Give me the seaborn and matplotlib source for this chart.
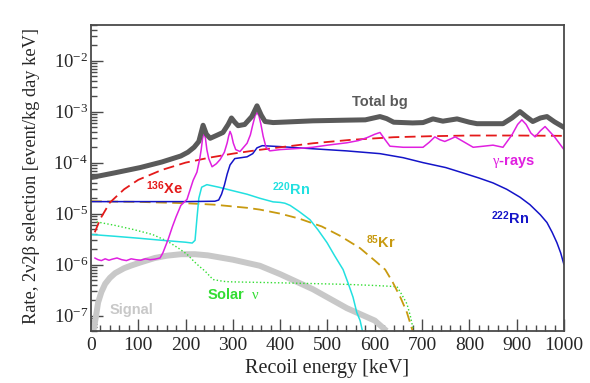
import matplotlib
matplotlib.use("Agg")
import matplotlib.pyplot as plt
import matplotlib.ticker as mticker
import pandas as pd
import seaborn as sns

# ---- background components: recoil energy [keV] vs rate [event/kg/day/keV] ----
total_x = [0, 50, 104, 150, 190, 205, 218, 228, 237, 244, 252, 265, 279, 290, 297, 304,
           311, 325, 340, 351, 360, 368, 385, 420, 469, 540, 580, 611, 625, 640, 680, 702,
           723, 744, 774, 800, 816, 871, 890, 907, 920, 934, 950, 964, 980, 1000]
total_y = [5.1e-5, 6.3e-5, 8.0e-5, 1.03e-4, 1.35e-4, 1.6e-4, 2.0e-4, 2.6e-4, 5.4e-4, 3.6e-4,
           3.0e-4, 3.4e-4, 3.9e-4, 5.6e-4, 7.5e-4, 6.2e-4, 5.3e-4, 5.6e-4, 8.0e-4, 1.3e-3,
           8.5e-4, 6.4e-4, 6.1e-4, 6.3e-4, 6.6e-4, 6.8e-4, 6.9e-4, 8.0e-4, 7.3e-4, 6.2e-4,
           6.0e-4, 6.1e-4, 7.2e-4, 6.5e-4, 7.2e-4, 6.2e-4, 5.8e-4, 5.8e-4, 7.5e-4, 1.0e-3,
           8.0e-4, 6.4e-4, 7.5e-4, 8.0e-4, 6.3e-4, 4.9e-4]

gamma_x = [8, 15, 22, 30, 38, 45, 55, 65, 75, 85, 95, 105, 115, 125, 135, 146, 152, 163, 172,
           180, 190, 203, 216, 224, 230, 233, 236, 239, 242, 245, 249, 256, 265, 273, 282, 288,
           291, 294, 297, 301, 306, 315, 330, 337, 342, 347, 351, 355, 359, 364, 370, 378, 400,
           440, 469, 500, 541, 565, 584, 600, 611, 622, 632, 660, 702, 715, 727, 738, 748, 760,
           770, 790, 808, 830, 850, 871, 890, 902, 911, 920, 930, 939, 950, 960, 980, 1000]
gamma_y = [1.35e-6, 1.25e-6, 1.2e-6, 1.3e-6, 1.22e-6, 1.28e-6, 1.35e-6, 1.25e-6, 1.2e-6, 1.3e-6,
           1.25e-6, 1.22e-6, 1.3e-6, 1.25e-6, 1.28e-6, 1.35e-6, 1.7e-6, 3.1e-6, 5.5e-6, 8.7e-6,
           1.45e-5, 1.9e-5, 4.5e-5, 6.5e-5, 1.2e-4, 1.8e-4, 3.0e-4, 3.9e-4, 3.0e-4, 1.8e-4,
           1.2e-4, 8.3e-5, 9.5e-5, 1.15e-4, 1.6e-4, 2.45e-4, 3.3e-4, 4.1e-4, 3.5e-4, 2.4e-4,
           1.8e-4, 1.65e-4, 2.4e-4, 3.5e-4, 5.5e-4, 8.3e-4, 9.6e-4, 8.3e-4, 5.8e-4, 3.3e-4,
           2.0e-4, 1.7e-4, 1.8e-4, 1.9e-4, 2.0e-4, 2.2e-4, 2.45e-4, 2.7e-4, 3.1e-4, 3.6e-4,
           3.9e-4, 2.8e-4, 2.1e-4, 2.0e-4, 2.0e-4, 2.5e-4, 3.2e-4, 2.8e-4, 2.6e-4, 2.9e-4,
           3.2e-4, 2.5e-4, 2.0e-4, 2.1e-4, 2.2e-4, 2.0e-4, 3.5e-4, 5.6e-4, 6.9e-4, 5.6e-4,
           3.8e-4, 3.2e-4, 4.2e-4, 5.1e-4, 3.2e-4, 1.8e-4]

xe136_x = [8, 20, 40, 70, 100, 150, 200, 250, 300, 350, 400, 470, 550, 640, 720, 800, 900, 1000]
xe136_y = [4.3e-6, 8.0e-6, 1.65e-5, 3.0e-5, 4.6e-5, 7.2e-5, 1.0e-4, 1.25e-4, 1.5e-4, 1.75e-4,
           2.0e-4, 2.4e-4, 2.8e-4, 3.15e-4, 3.3e-4, 3.4e-4, 3.4e-4, 3.35e-4]

rn222_x = [0, 100, 200, 262, 270, 276, 282, 288, 294, 304, 330, 342, 351, 362, 400, 469, 540,
           611, 660, 702, 750, 786, 820, 850, 879, 907, 928, 950, 964, 975, 985, 993, 1000]
rn222_y = [1.72e-5, 1.72e-5, 1.72e-5, 1.75e-5, 1.85e-5, 2.4e-5, 3.6e-5, 6.0e-5, 9.0e-5, 1.2e-4,
           1.3e-4, 1.5e-4, 1.95e-4, 2.15e-4, 2.06e-4, 1.87e-4, 1.7e-4, 1.5e-4, 1.25e-4, 1.0e-4,
           8.0e-5, 6.3e-5, 5.0e-5, 4.0e-5, 3.0e-5, 2.1e-5, 1.5e-5, 9.5e-6, 6.7e-6, 4.3e-6,
           2.7e-6, 1.7e-6, 1.0e-6]

rn220_x = [0, 50, 100, 150, 200, 214, 220, 224, 228, 234, 245, 270, 294, 330, 357, 385, 400,
           410, 421, 440, 463, 480, 499, 515, 533, 545, 554, 562, 569, 575]
rn220_y = [3.9e-6, 3.6e-6, 3.3e-6, 3.0e-6, 2.75e-6, 2.65e-6, 3.0e-6, 8.0e-6, 2.0e-5, 3.3e-5,
           3.7e-5, 3.3e-5, 2.9e-5, 2.4e-5, 2.0e-5, 1.7e-5, 1.66e-5, 1.6e-5, 1.45e-5, 1.1e-5,
           7.6e-6, 4.8e-6, 2.7e-6, 1.5e-6, 8.0e-7, 4.0e-7, 2.3e-7, 1.15e-7, 8.0e-8, 4.5e-8]

kr85_x = [0, 100, 200, 260, 330, 357, 400, 440, 488, 526, 569, 600, 622, 638, 655, 668, 680]
kr85_y = [1.75e-5, 1.7e-5, 1.6e-5, 1.5e-5, 1.3e-5, 1.2e-5, 1.0e-5, 8.0e-6, 5.6e-6, 3.7e-6,
          2.1e-6, 1.2e-6, 8.0e-7, 4.5e-7, 2.2e-7, 1.15e-7, 5.0e-8]

solar_x = [12, 50, 89, 130, 161, 185, 203, 218, 230, 241, 258, 280, 294, 400, 541, 600, 647,
           657, 668, 675, 682]
solar_y = [6.9e-6, 5.9e-6, 4.9e-6, 3.9e-6, 2.9e-6, 2.1e-6, 1.6e-6, 1.15e-6, 9.1e-7, 7.5e-7,
           5.1e-7, 4.7e-7, 4.6e-7, 4.4e-7, 4.1e-7, 3.9e-7, 3.7e-7, 2.6e-7, 1.7e-7, 1.0e-7, 5.0e-8]

signal_x = [5, 10, 15, 22, 30, 40, 51, 70, 85, 104, 135, 161, 190, 220, 247, 300, 357, 400,
            469, 541, 600, 625]
signal_y = [5e-8, 9e-8, 1.8e-7, 2.9e-7, 4.2e-7, 5.5e-7, 6.8e-7, 8.5e-7, 9.6e-7, 1.1e-6,
            1.35e-6, 1.5e-6, 1.6e-6, 1.6e-6, 1.52e-6, 1.25e-6, 9.5e-7, 6.5e-7, 3.3e-7,
            1.4e-7, 8e-8, 5e-8]

x_ticks = [0, 100, 200, 300, 400, 500, 600, 700, 800, 900, 1000]
y_ticks = [1e-7, 1e-6, 1e-5, 1e-4, 1e-3, 1e-2]

# ---- style ----
sns.set_style("ticks")
plt.rcParams["font.family"] = ["Liberation Serif", "DejaVu Serif"]
plt.rcParams["mathtext.fontset"] = "custom"
plt.rcParams["mathtext.rm"] = "Liberation Serif"
plt.rcParams["mathtext.it"] = "Liberation Serif:italic"
plt.rcParams["mathtext.bf"] = "Liberation Serif:bold"

fig = plt.figure(figsize=(5.9, 3.83), dpi=100)
ax = fig.add_axes([0.1542, 0.1358, 0.8017, 0.7990])
ax.set_yscale("log")

frame = "#4a4a4a"


def draw(xs, ys, **kw):
    df = pd.DataFrame({"E": xs, "rate": ys})
    sns.lineplot(data=df, x="E", y="rate", ax=ax, estimator=None, sort=False,
                 legend=False, **kw)


draw(signal_x, signal_y, color="#c8c8c8", linewidth=4.3, solid_capstyle="butt")
draw(solar_x, solar_y, color="#33dd33", linewidth=1.0, linestyle=(0, (1, 1.6)))
draw(kr85_x, kr85_y, color="#c89a10", linewidth=1.3, linestyle=(0, (6, 3)))
draw(rn220_x, rn220_y, color="#22e0e0", linewidth=1.1)
draw(rn222_x, rn222_y, color="#1414c8", linewidth=1.1)
draw(xe136_x, xe136_y, color="#e41a1a", linewidth=1.3, linestyle=(0, (6, 3)))
draw(gamma_x, gamma_y, color="#e020e0", linewidth=1.1)
draw(total_x, total_y, color="#5a5a5a", linewidth=3.6, solid_joinstyle="round")

ax.set_xlim(0, 1000)
ax.set_ylim(5e-8, 5e-2)
ax.set_xticks(x_ticks)
ax.xaxis.set_minor_locator(mticker.MultipleLocator(20))
ax.yaxis.set_major_locator(mticker.FixedLocator(y_ticks))
ax.yaxis.set_major_formatter(mticker.LogFormatterSciNotation())
minor_y = [m * 10.0 ** e for e in range(-8, -1) for m in range(2, 10)
           if 5e-8 <= m * 10.0 ** e <= 5e-2]
ax.yaxis.set_minor_locator(mticker.FixedLocator(minor_y))
ax.yaxis.set_minor_formatter(mticker.NullFormatter())

ax.tick_params(axis="both", which="major", direction="in", length=8.5, width=1.0,
               color=frame, labelsize=14, top=False, right=False)
ax.tick_params(axis="both", which="minor", direction="in", length=4.5, width=1.0,
               color=frame, top=False, right=False)
ax.tick_params(axis="x", which="major", pad=4)
ax.tick_params(axis="y", which="major", pad=2, labelsize=13.5)
for s in ax.spines.values():
    s.set_color(frame)
    s.set_linewidth(1.3)
    s.set_visible(True)

ax.set_xlabel("Recoil energy [keV]", fontsize=14.5)
ax.set_ylabel("Rate, 2\u03bd2\u03b2 selection [event/kg day keV]", fontsize=13.2)
ax.xaxis.set_label_coords(0.5, -0.092)
ax.yaxis.set_label_coords(-0.108, 0.505)

# ---- curve labels ----
lab = dict(family=["Liberation Sans", "DejaVu Sans"], fontweight="bold", fontsize=10.5,
           ha="center", va="center")
ax.text(611, 1.55e-3, "Total bg", color="#5a5a5a", **lab)
ax.text(894, 1.05e-4, r"$\mathrm{\gamma}$-rays", color="#e020e0", **lab)
ax.text(156, 3.2e-5, r"$^{\mathdefault{136}}$Xe", color="#e41a1a", **lab)
ax.text(423, 3.0e-5, r"$^{\mathdefault{220}}$Rn", color="#22e0e0", **lab)
ax.text(886, 8.3e-6, r"$^{\mathdefault{222}}$Rn", color="#1414c8", **lab)
ax.text(613, 2.8e-6, r"$^{\mathdefault{85}}$Kr", color="#c89a10", **lab)
ax.text(302, 2.6e-7, r"Solar  $\mathrm{\nu}$", color="#33dd33", **lab)
ax.text(85, 1.3e-7, "Signal", color="#c8c8c8", **lab)

fig.savefig("out.png", dpi=100)
